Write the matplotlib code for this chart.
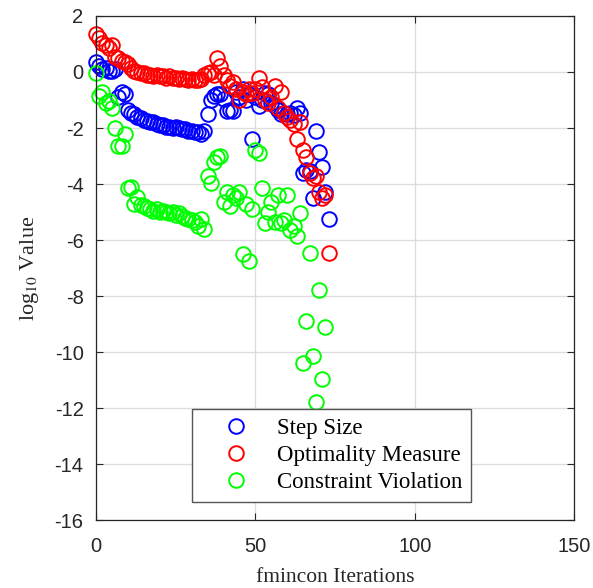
import numpy as np
import matplotlib
matplotlib.use("Agg")
import matplotlib.pyplot as plt

plt.rcParams["axes.unicode_minus"] = False
plt.rcParams["mathtext.fontset"] = "stix"

# log10 values, one per fmincon iteration
step_size = [0.35, 0.2, 0.1, 0.15, 0.05, 0.05, 0.1, -0.9, -0.7, -0.8,
             -1.35, -1.45, -1.5, -1.6, -1.65, -1.7, -1.75, -1.8, -1.8, -1.85,
             -1.9, -1.9, -1.95, -1.95, -2.0, -1.95, -2.0, -2.05, -2.05, -2.1,
             -2.1, -2.15, -2.15, -2.2, -2.1, -1.5, -1.0, -0.85, -0.8, -0.8,
             -0.95, -1.4, -1.35, -1.4, -0.7, -0.9, -0.6, -1.0, -0.8, -2.4,
             -0.9, -1.2, -1.0, -0.75, -0.8, -1.1, -1.2, -1.35, -1.5, -1.45,
             -1.5, -1.45, -1.55, -1.3, -1.45, -3.6, -3.5, -3.55, -4.5, -2.1,
             -2.85, -3.4, -4.3, -5.25]
optimality = [1.35, 1.2, 1.05, 0.95, 0.85, 0.95, 0.55, 0.5, 0.4, 0.35,
              0.3, 0.15, 0.05, 0.0, -0.05, -0.05, -0.1, -0.1, -0.15, -0.1,
              -0.15, -0.15, -0.2, -0.15, -0.2, -0.2, -0.25, -0.2, -0.25, -0.3,
              -0.25, -0.3, -0.3, -0.25, -0.1, -0.05, 0.0, -0.1, 0.5, 0.2,
              -0.1, -0.3, -0.5, -0.35, -0.6, -1.0, -0.7, -0.8, -0.6, -0.75,
              -0.6, -0.2, -0.55, -1.0, -1.1, -0.9, -0.5, -1.3, -0.7, -1.45,
              -1.6, -1.7, -1.85, -2.4, -1.8, -2.8, -3.05, -3.6, -3.8, -3.7,
              -4.3, -4.5, -4.4, -6.45]
constraint = [-0.05, -0.85, -0.7, -1.1, -1.05, -1.3, -2.0, -2.65, -2.65, -2.2,
              -4.15, -4.1, -4.7, -4.45, -4.75, -4.8, -4.85, -4.9, -4.95, -4.9,
              -5.0, -4.95, -5.0, -5.05, -5.0, -5.1, -5.05, -5.15, -5.2, -5.25,
              -5.3, -5.35, -5.5, -5.25, -5.6, -3.7, -3.95, -3.2, -3.05, -3.0,
              -4.65, -4.3, -4.8, -4.4, -4.5, -4.3, -6.5, -4.7, -6.75, -4.9,
              -2.8, -2.9, -4.15, -5.4, -5.0, -4.65, -5.35, -4.4, -5.4, -5.3,
              -4.4, -5.65, -5.5, -5.85, -5.05, -10.4, -8.9, -6.45, -10.15, -11.8,
              -7.8, -10.95, -9.1, -13.2]
iterations = np.arange(len(optimality))

x_ticks = [0, 50, 100, 150]
y_ticks = [2, 0, -2, -4, -6, -8, -10, -12, -14, -16]

fig = plt.figure(figsize=(5.93, 5.88), dpi=100)
ax = fig.add_axes([0.162, 0.1156, 0.806, 0.8572])

mk = dict(marker="o", linestyle="none", markersize=10.5,
          markerfacecolor="none", markeredgewidth=1.4, clip_on=False)
ax.plot(iterations, step_size, color="#0000ff", label="Step Size", **mk)
ax.plot(iterations, optimality, color="#ff0000", label="Optimality Measure", **mk)
ax.plot(iterations, constraint, color="#00ff00", label="Constraint Violation", **mk)

ax.set_xlim(0, 150)
ax.set_ylim(-16, 2)
ax.set_xticks(x_ticks)
ax.set_yticks(y_ticks)
ax.grid(True, color="#dcdcdc", linewidth=0.9)
ax.set_axisbelow(True)
ax.tick_params(direction="in", top=True, right=True, length=5, width=0.8,
               labelsize=14.5, colors="#262626")
ax.tick_params(axis="x", pad=12)
ax.tick_params(axis="y", pad=9)
for t in ax.get_xticklabels() + ax.get_yticklabels():
    t.set_family("Liberation Sans")
for s in ax.spines.values():
    s.set_color("#262626")
    s.set_linewidth(0.9)

ax.set_xlabel("fmincon Iterations", family="Liberation Serif", fontsize=15.5,
              color="#262626", labelpad=9)
ax.set_ylabel(r"log$_{10}$ Value", family="Liberation Serif",
              fontsize=16, color="#262626", labelpad=10)

leg = ax.legend(loc="lower left", bbox_to_anchor=(0.2008, 0.0357),
                borderaxespad=0,
                prop={"family": "Liberation Serif", "size": 16.5},
                handletextpad=0.3, borderpad=0.4, labelspacing=0.25,
                handlelength=3.0, fancybox=False, framealpha=1)
leg.get_frame().set_edgecolor("#555555")
leg.get_frame().set_linewidth(1.0)

fig.savefig("out.png", dpi=100)
